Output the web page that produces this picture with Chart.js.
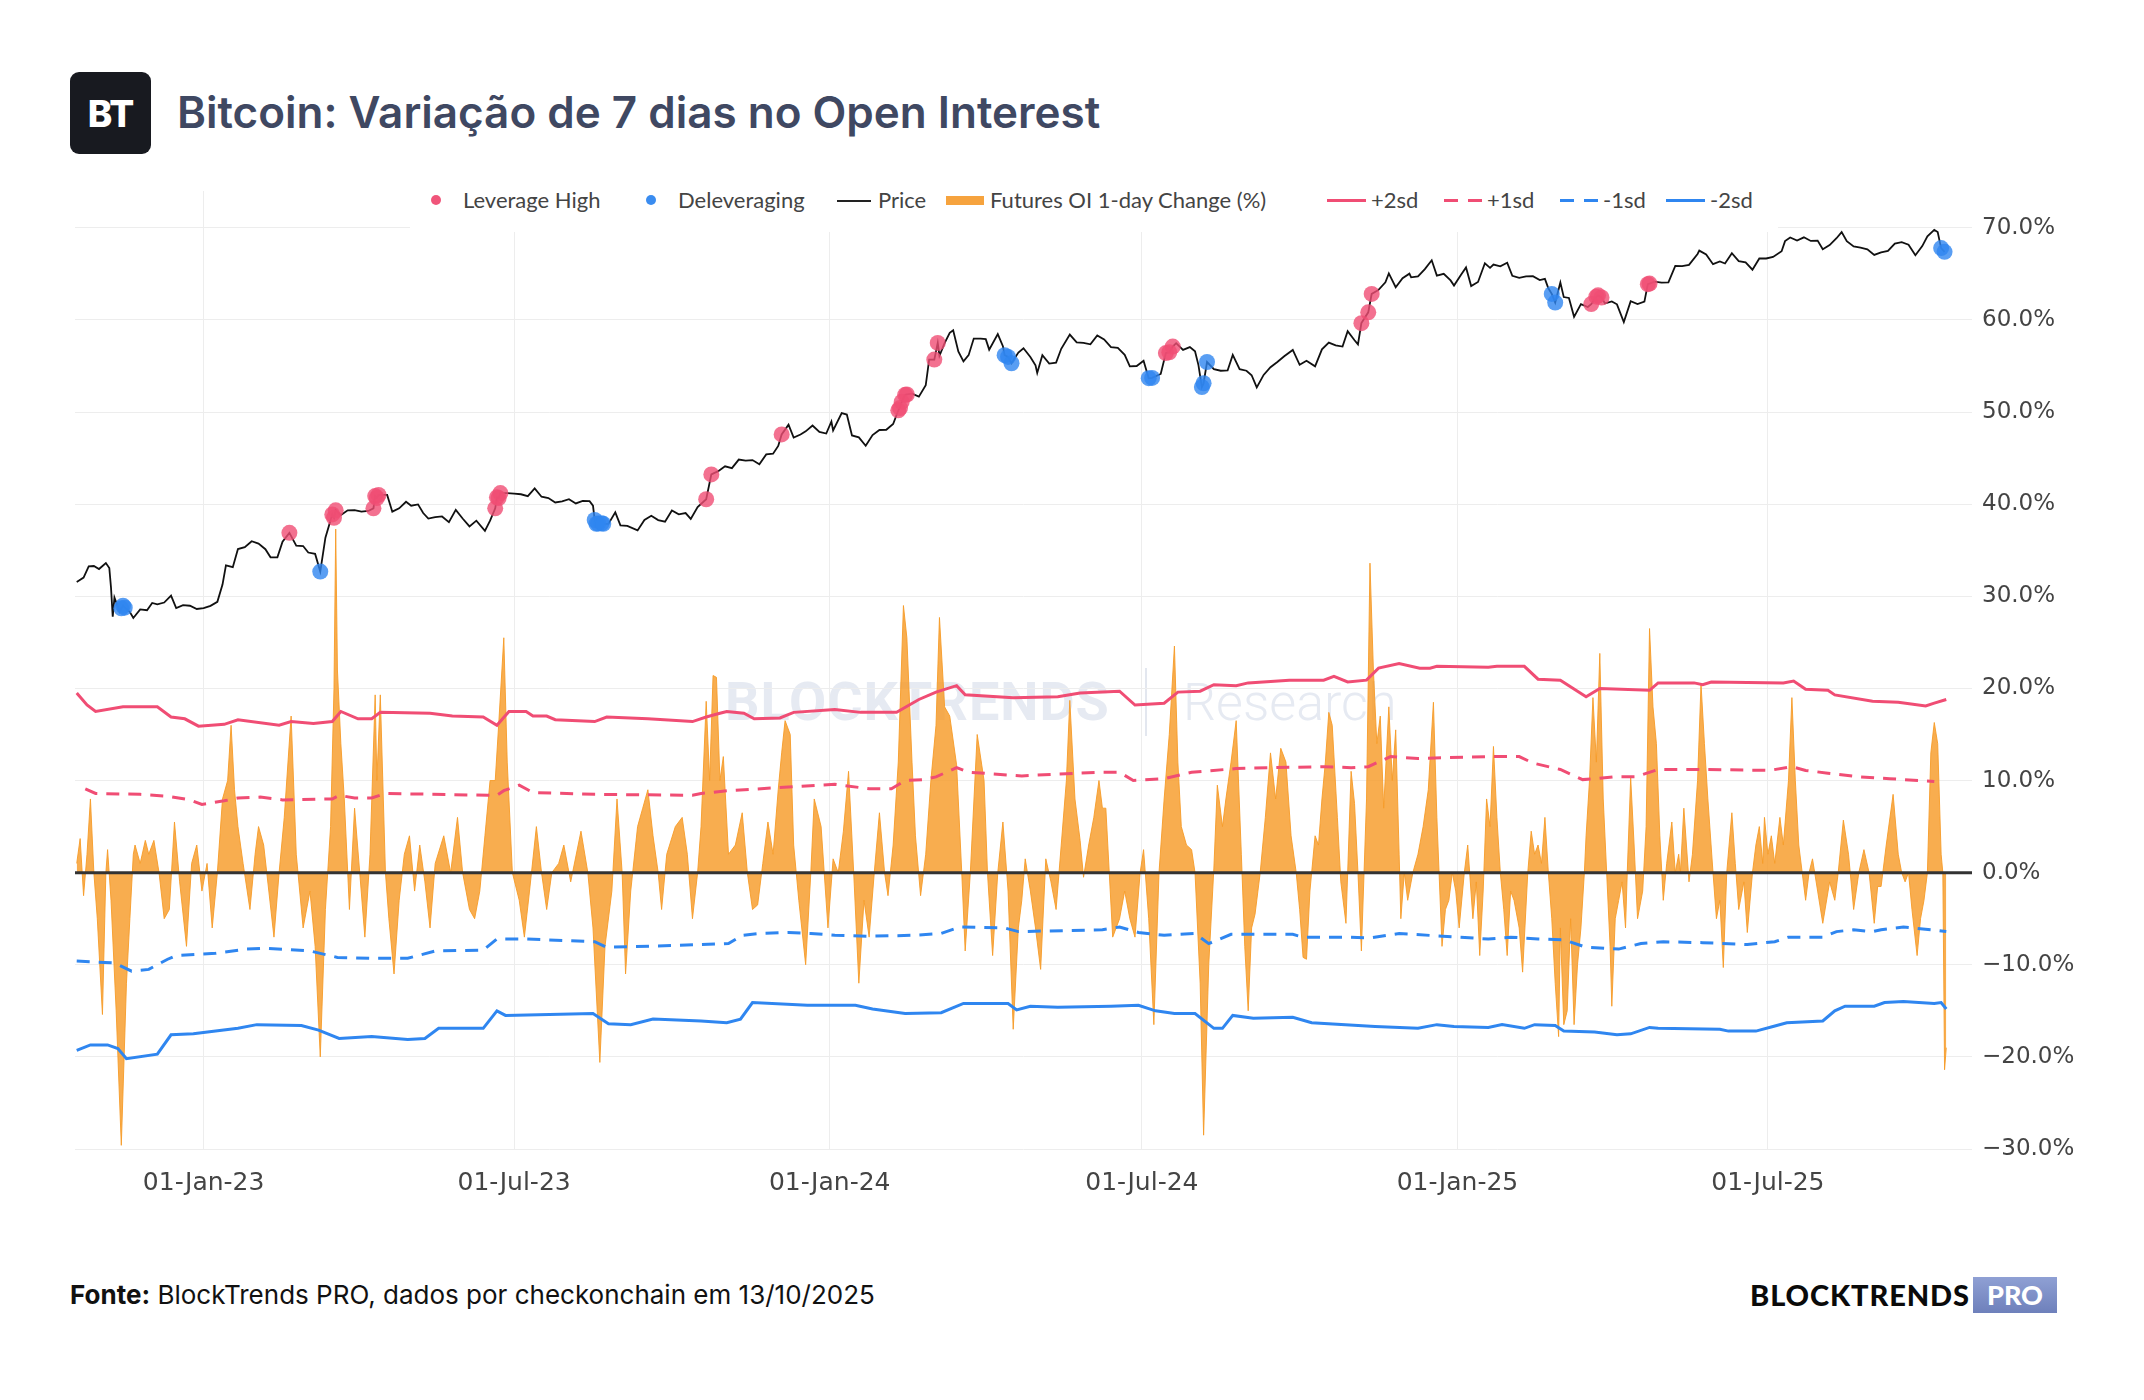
<!DOCTYPE html>
<html>
<head>
<meta charset="utf-8">
<script src="https://cdn.jsdelivr.net/npm/chart.js@4.4.1/dist/chart.umd.min.js"></script>
<style>
  body { margin:0; width:2144px; height:1400px; background:#fff; position:relative; overflow:hidden; font-family: Inter, "Noto Sans", sans-serif; }
  #logo { position:absolute; left:70px; top:72px; width:81px; height:82px; background:#181a20; border-radius:9px; color:#fff;
          font-weight:800; font-size:37px; display:flex; align-items:center; justify-content:center; letter-spacing:-1px; }
  #title { position:absolute; left:177px; top:83px; font-weight:600; font-size:44px; color:#3f4862; line-height:58px; white-space:nowrap; }
  #wm { position:absolute; left:725px; top:668px; height:70px; z-index:0; white-space:nowrap; }
  #wm .b { position:absolute; left:0; top:2px; font: 700 54px Roboto; color:#e6eaf2; letter-spacing:1px; }
  #wm .sep { position:absolute; left:420px; top:0; width:2px; height:68px; background:#e3e7ef; }
  #wm .r { position:absolute; left:458px; top:4px; font: 300 52px Roboto; color:#e6eaf2; }
  canvas { position:absolute; left:0; top:0; z-index:1; }
  #legend { position:absolute; left:410px; top:172px; width:1368px; height:60px; background:#fff; z-index:2; }
  .lt { position:absolute; top:13px; font: 400 22px Lato; color:#444; line-height:30px; white-space:nowrap; }
  .dot { position:absolute; top:23px; width:10px; height:10px; border-radius:50%; }
  .ln { position:absolute; top:27px; height:3px; }
  #footer { position:absolute; left:70px; top:1278px; font-size:26px; color:#111; line-height:34px; white-space:nowrap; }
  #brand { position:absolute; left:1750px; top:1277px; height:36px; white-space:nowrap; }
  #brand .bt { position:absolute; left:0; top:0; font: 900 29px Lato; color:#0a0a0a; line-height:36px; letter-spacing:0.9px; }
  #brand .pro { position:absolute; left:223px; top:0; width:84px; height:36px; background:linear-gradient(#8fa0d4,#6e80bb);
               color:#fff; font: 900 27px Lato; line-height:36px; text-align:center; }
</style>
</head>
<body>
<div id="logo">BT</div>
<div id="title">Bitcoin: Variação de 7 dias no Open Interest</div>

<div id="wm"><span class="b">BLOCKTRENDS</span><span class="sep"></span><span class="r">Research</span></div>

<canvas id="chart" width="2144" height="1400"></canvas>

<div id="legend">
  <span class="dot" style="left:21px;background:#f0557a"></span>
  <span class="lt" style="left:53px">Leverage High</span>
  <span class="dot" style="left:236px;background:#3a8cf0"></span>
  <span class="lt" style="left:268px">Deleveraging</span>
  <span class="ln" style="left:427px;width:34px;height:2px;top:28px;background:#222"></span>
  <span class="lt" style="left:468px">Price</span>
  <span class="ln" style="left:536px;width:38px;height:9px;top:24px;background:#f6a33e"></span>
  <span class="lt" style="left:580px">Futures OI 1-day Change (%)</span>
  <span class="ln" style="left:917px;width:39px;background:#f04d74"></span>
  <span class="lt" style="left:961px">+2sd</span>
  <span class="ln" style="left:1034px;width:14px;background:#f04d74"></span>
  <span class="ln" style="left:1058px;width:14px;background:#f04d74"></span>
  <span class="lt" style="left:1077px">+1sd</span>
  <span class="ln" style="left:1150px;width:14px;background:#2f86f0"></span>
  <span class="ln" style="left:1174px;width:14px;background:#2f86f0"></span>
  <span class="lt" style="left:1193px">-1sd</span>
  <span class="ln" style="left:1256px;width:39px;background:#2f86f0"></span>
  <span class="lt" style="left:1300px">-2sd</span>
</div>

<div id="footer"><b>Fonte:</b> BlockTrends PRO, dados por checkonchain em 13/10/2025</div>
<div id="brand"><span class="bt">BLOCKTRENDS</span><span class="pro">PRO</span></div>

<script>
// x values are days counted from 01-Jan-2023
const tickDays = [0, 181, 365, 547, 731, 912];
const tickLabels = ['01-Jan-23', '01-Jul-23', '01-Jan-24', '01-Jul-24', '01-Jan-25', '01-Jul-25'];
const pctTicks = [-30, -20, -10, 0, 10, 20, 30, 40, 50, 60, 70];

// BTC price (USD)
const priceDays = [-74,-70,-67,-64,-61,-57,-55,-54,-53,-52,-49,-48,-47,-46,-43,-41,-37,-33,-30,-27,-23,-19,-16,-12,-8,-4,
  0,4,8,11,13,17,20,24,28,32,36,39,43,46,50,54,58,61,65,68,71,75,76,77,80,84,88,92,96,99,100,101,102,107,110,114,118,
  121,125,128,131,135,139,143,147,151,155,159,164,167,170,171,172,173,177,181,185,189,193,197,201,205,209,213,217,221,
  225,227,228,229,230,232,233,236,240,243,247,253,257,261,265,269,273,277,281,284,288,293,296,300,304,308,312,316,320,
  324,328,332,335,337,341,344,348,351,355,359,363,366,367,372,375,378,382,386,390,394,398,402,405,406,407,409,410,413,
  417,421,423,426,428,429,432,435,437,440,443,446,449,453,456,458,463,466,467,469,471,475,478,482,485,486,489,493,497,
  500,505,509,513,517,521,525,529,533,537,540,544,548,551,553,558,561,563,565,567,571,575,578,580,582,583,585,589,593,
  597,600,604,608,611,614,618,622,626,630,635,639,643,648,652,656,660,664,667,671,673,675,679,681,685,689,691,695,699,
  703,704,708,712,716,719,723,727,729,733,736,739,743,747,750,752,756,760,763,767,771,775,779,782,784,786,788,791,793,
  796,799,803,807,809,812,813,815,817,821,824,828,832,836,840,842,843,846,850,854,858,862,866,871,872,876,880,884,887,
  891,895,899,903,907,911,915,920,922,925,929,933,937,941,944,948,952,955,958,962,966,970,974,978,982,986,990,994,998,
  1002,1005,1009,1011,1013,1015];
const priceVals = [19120,19570,20770,20810,20480,21150,20590,18540,15880,17590,16330,16610,16850,16670,16280,15780,16520,
  16440,17090,16970,17130,17780,16630,16900,16840,16550,
  16620,16830,17200,18850,20880,20680,22780,23000,23750,23450,22760,21800,21790,23700,24830,23200,23150,22360,22200,
  20200,24200,27400,26900,28000,27300,28000,28030,27800,27900,28300,30200,29900,30400,30390,27800,28300,29300,
  28700,28900,27600,26800,27000,27100,26300,28070,26800,25700,26500,25100,26500,28300,30000,29900,30700,30700,30600,
  30500,30200,31470,30100,29900,29200,29350,29700,29050,29430,
  29400,28700,26600,26050,26100,26120,26050,26050,27700,25850,25770,25160,26600,27200,26580,26350,27980,27410,27590,
  26750,28500,29700,33900,34500,35400,35050,36690,36480,36590,
  35800,37720,37850,39450,41950,44200,41250,41930,42650,43990,42520,42150,44950,42850,47000,46630,41730,41300,39500,
  41800,42950,43000,44350,47700,48300,49900,51800,51900,52140,
  51300,54500,62500,62500,68300,63800,68200,72100,73100,65300,61900,64000,69900,69900,69700,65900,71600,67100,64000,
  63400,61300,64900,66400,63400,60600,58200,64000,61200,61500,
  66200,71400,68500,68300,67800,71100,69600,66800,66500,64100,60300,60400,62100,56600,56700,57900,64700,65000,67000,
  68200,65800,66800,65300,60700,54000,55100,61700,59400,58900,
  59000,64100,59400,58900,57500,53900,57600,60000,61700,63600,65800,60800,62100,60300,66000,68400,67400,67000,72700,
  69300,67800,75900,80400,88700,90600,94300,98900,91900,96400,
  98800,96900,97400,101200,106100,97800,98700,95300,92700,98100,102100,92500,94500,104400,101900,103700,102700,104700,
  97700,96600,97400,97500,95500,96100,91400,88700,84700,94200,87200,
  86800,78500,84000,82700,84000,87400,88000,87000,84300,85200,83900,76300,85300,84000,85100,93400,93700,94700,94200,
  94300,103000,102800,103500,109700,111700,109400,103900,105400,104300,
  110200,105600,104900,100900,107100,107100,108000,111300,117500,119800,117900,119900,117600,117800,112500,115000,
  119300,123300,117400,114200,113500,112500,109200,110700,111500,115900,116800,115300,109000,
  114400,120500,124700,123300,113200,111000];

// signal dots (on price)
const levDays = [50,75,76,77,99,100,101,102,170,171,172,173,293,296,337,405,406,407,409,410,426,428,561,563,565,675,679,681,
  809,812,813,815,842,843];
const levPrice = [24830,27400,26900,28000,28300,30200,29900,30400,28300,30000,29900,30700,29700,33900,41950,47700,48300,
  49900,51800,51900,62500,68300,64700,65000,67000,75900,80400,88700,84000,87400,88000,87000,93400,93700];
const delevDays = [-48,-47,-46,68,228,229,230,232,233,467,469,471,551,553,582,583,585,786,788,1013,1015];
const delevPrice = [16610,16850,16670,20200,26600,26050,26100,26120,26050,64000,63400,61300,56600,56700,54000,55100,
  61700,88700,84700,113200,111000];

// Futures OI change (%)
const oiDays = [-74,-72,-70,-68,-66,-64,-62,-59,-57,-56,-54,-51,-48,-45,-43,-41,-40,-37,-34,-32,-29,-26,-23,-20,-17,-14,
  -10,-7,-4,-1,2,5,8,11,14,16,18,20,23,27,30,32,35,38,41,44,47,51,54,58,62,65,68,71,74,76,77,78,80,82,85,88,91,94,97,
  100,101,103,106,108,111,114,117,120,123,126,129,132,135,140,144,148,151,155,158,161,164,167,170,172,175,177,180,184,
  187,190,194,197,200,203,207,210,214,220,224,227,231,234,238,241,244,246,249,253,256,259,262,265,267,270,275,279,282,
  285,288,
  290,293,295,297,299,301,303,306,310,314,317,320,323,326,329,332,335,337,339,342,344,347,351,354,356,360,364,367,370,
  373,376,379,382,385,388,391,394,397,399,402,405,408,410,413,415,418,421,424,427,429,432,435,439,442,444,447,451,455,
  457,460,463,466,469,472,475,477,479,482,485,488,491,494,497,500,503,505,508,511,513,516,519,522,524,526,528,530,534,
  537,540,543,546,548,551,554,557,560,563,566,568,570,573,576,578,581,583,586,589,591,594,596,599,602,605,607,609,611,
  613,616,619,622,625,628,631,634,637,639,
  641,643,645,648,650,652,654,656,658,661,663,666,669,671,673,675,678,680,682,684,686,688,691,693,695,697,698,700,702,
  705,708,711,714,717,719,722,724,726,728,730,732,735,737,740,742,744,746,748,750,752,754,756,758,760,762,764,767,769,
  772,774,776,778,780,782,784,786,788,790,791,793,795,797,799,801,803,805,806,808,810,812,814,816,818,820,821,823,825,
  827,829,830,832,834,836,839,841,843,845,847,849,851,853,856,858,860,861,863,866,868,871,873,875,877,880,882,884,886,
  888,891,893,895,898,900,903,905,907,909,910,912,914,916,919,921,924,926,928,930,932,934,936,938,941,944,948,951,953,
  956,959,962,965,968,971,974,976,978,981,985,988,990,992,994,996,999,1001,1003,1005,1007,1009,1011,1013,1014,1015,1016];
const oiVals = [1,3.7,-2.5,2,8,0,-5,-15.4,0,2.5,-3,-15,-29.6,-12,-5,2,3,1,3.5,2,3.5,0,-5,-4,5.5,-1,
  -8,1,3,-2,1,-6,0,8,10,16,9,5,1,-4,2,5,3,-2,-7,0,6,17,2,-6,-2,-8,-20,-4,5,20,37.3,22,14,8,-4,7,0,-7,2,
  19.3,10,19.3,0,-5,-11,-3,2,4,-2,3,-1,-6,1,4,0,6,0,-4,-5,-2,4,10,10,16,25.5,12,0,-3,
  -7,-2,5,0,-4,0,1,3,-1,4.5,0,-6,-20.6,-8,-2,8,0,-11,-2,5,7,9,4,0,-4,2,5,6,2,
  -5,0,
  5,18.6,10,21.4,21.2,10,12.6,2,3,6.5,0,-4,-3.5,1,5.5,2,9,13,16.5,15,3,-3,-10,0,8,5,-6,1.5,0,
  4.5,11,0,-12,-3,-7,0,6.5,0,-2.5,3,12,29,25.5,12,4,-2.5,2,10,16,27.7,18,17,11.7,0,-8.5,0,15,10,
  0,-9,0,5.5,-2,-17,-6,-3,1.5,-2,-6,-10.5,1.5,-1,-4,3,10,18.7,8,3.5,-0.5,3,6,10,7,7,0,-7,-5,
  -2,-5,-7,0,2.5,-5,-16.5,0,8,15,24.6,12,5,3,2.5,0,-12,-28.5,-10,0.5,9.5,5,8,12,16.5,2,-8,-15,-6,
  -4.5,0,6,13,8,13.5,12,4,0,-4,
  -9.2,-9.4,-2,4,3,8,12,17.4,16,6,-1,-5.5,11,7.5,0,-8.5,8,33.6,22,14,17,7,18,10,15.5,2,-5,0,-3,
  0,2,5,9,18.5,6,-8,-4,-3,0,-2,-6,0,3,-5,-1,-9,-2,8,5,13.7,6,0,-4,-9,-2,-3,-6,-10.8,
  0,4.5,2,3,1,6,0,-5,-12,-17.8,-6,-16.5,-15,-5,-16.5,-10,-6,0,4,10,19,12,23.8,8,0,-8,-14.5,-5,-3,
  -1,-6,0,10.3,3,-5,-2,5,26.5,18,14,4,-3,1,5.5,0,2,0,7,-1,2,10,20.5,14,8,0,-5,-3,-10.3,
  0,6.5,1,-4,-1,-6.5,0,3,5,1,6,2,4,1,6,3,10,19,10,3,0,-3,0,1.5,-2,-5.5,-1,-3,0,
  5.7,2,-4,0,2.5,0,-5.5,-1.5,-1.5,3,8.5,2,0,-1,0,-4,-9,-5,-3,0,13,16.3,14,2,0,-21.4,-19];

// standard deviation bands (%)
const p2Days = [-74,-68,-63,-47,-27,-19,-11,-3,12,20,44,51,64,75,80,90,98,103,132,145,163,171,178,188,192,200,205,228,235,
  259,285,293,301,305,315,321,336,344,368,383,404,417,427,439,444,472,498,511,534,543,560,568,581,589,602,609,633,653,
  659,667,678,685,697,709,715,719,749,754,770,778,791,806,814,843,848,869,874,879,921,927,934,947,951,973,988,1004,
  1009,1016];
const p2Vals = [19.5,18.2,17.5,18.0,18.0,16.9,16.7,15.9,16.1,16.6,16.0,16.4,16.2,16.4,17.5,16.7,16.7,17.4,17.3,17.0,16.9,
  16.0,17.5,17.5,17.0,17.0,16.6,16.4,16.9,16.7,16.4,16.9,17.3,17.5,17.3,16.7,16.8,17.4,17.7,17.4,17.4,18.8,19.6,20.3,
  19.3,19.0,19.1,19.5,19.7,18.2,18.4,19.6,19.7,20.4,20.3,20.6,20.9,20.9,21.3,20.7,20.9,22.2,22.7,22.2,22.2,22.4,22.3,
  22.4,22.4,21.0,20.9,19.1,20.0,19.8,20.6,20.6,20.4,20.7,20.6,20.8,19.9,19.8,19.3,18.6,18.5,18.1,18.4,18.8];
const p1Days = [-69,-63,-37,-21,-8,-1,12,20,33,46,75,79,88,98,106,166,171,175,184,192,228,285,290,306,368,388,401,409,420,
  427,439,446,477,498,524,534,542,560,576,602,620,653,669,679,692,708,749,767,775,791,804,812,822,835,848,874,913,926,
  934,947,965,983,1009];
const p1Vals = [9.1,8.6,8.5,8.3,7.9,7.4,7.8,8.1,8.2,7.9,8.0,8.4,8.1,8.1,8.6,8.4,8.4,8.9,9.5,8.7,8.5,8.4,8.6,8.9,9.6,9.1,
  9.1,10.0,10.1,10.4,11.4,10.9,10.5,10.7,10.9,10.9,10.0,10.2,10.9,11.3,11.4,11.5,11.4,11.5,12.6,12.4,12.6,12.6,11.9,
  11.2,10.1,10.2,10.4,10.4,11.2,11.2,11.1,11.5,11.1,10.8,10.4,10.2,9.9];
const m1Days = [-74,-52,-42,-32,-21,-16,7,25,36,62,78,98,119,135,163,171,187,228,235,275,306,314,324,341,354,368,388,414,
  430,441,467,475,524,534,545,560,578,586,599,635,641,667,680,697,731,749,762,778,793,806,825,838,851,874,900,916,924,
  944,952,962,973,978,991,1007,1016];
const m1Vals = [-9.6,-9.8,-10.7,-10.5,-9.4,-9.0,-8.75,-8.3,-8.2,-8.5,-9.2,-9.3,-9.3,-8.5,-8.4,-7.2,-7.2,-7.5,-8.1,-7.9,
  -7.7,-6.8,-6.6,-6.5,-6.6,-6.8,-6.9,-6.8,-6.6,-5.9,-6.0,-6.4,-6.2,-5.9,-6.5,-6.8,-6.6,-7.7,-6.7,-6.7,-7.0,-7.0,-7.1,
  -6.6,-7.0,-7.2,-7.0,-7.2,-7.3,-8.1,-8.3,-7.7,-7.5,-7.6,-7.8,-7.5,-7.0,-7.0,-6.4,-6.2,-6.4,-6.2,-5.9,-6.2,-6.4];
const m2Days = [-74,-66,-56,-50,-45,-27,-19,-6,7,20,31,57,67,79,98,119,129,137,163,171,176,227,236,249,262,290,305,313,
  320,352,380,390,409,430,443,469,474,482,498,529,545,555,566,578,589,594,600,612,635,646,683,708,719,729,749,757,770,
  776,788,793,811,824,832,843,848,884,889,905,915,923,944,951,957,974,980,991,1009,1013,1016];
const m2Vals = [-19.3,-18.7,-18.7,-19.1,-20.2,-19.7,-17.6,-17.5,-17.2,-16.9,-16.5,-16.6,-17.1,-18.0,-17.8,-18.1,-18.0,
  -16.9,-16.9,-15.0,-15.5,-15.3,-16.4,-16.5,-15.9,-16.1,-16.3,-15.9,-14.1,-14.4,-14.4,-14.8,-15.3,-15.2,-14.2,-14.2,
  -14.9,-14.5,-14.6,-14.5,-14.4,-15.0,-15.3,-15.3,-16.9,-16.9,-15.5,-15.8,-15.7,-16.3,-16.7,-16.9,-16.5,-16.7,-16.8,
  -16.5,-16.9,-16.5,-16.6,-17.2,-17.3,-17.6,-17.5,-16.8,-16.9,-17.0,-17.2,-17.2,-16.7,-16.3,-16.1,-15.0,-14.5,-14.5,
  -14.1,-14.0,-14.2,-14.1,-14.8];

const pts = (xs, ys) => xs.map((x, i) => ({ x: x, y: ys[i] }));

const PINK = '#f04d74';
const BLUE = '#2f86f0';

// dark zero line on top of the orange area
const zeroLine = {
  id: 'zeroLine',
  afterDatasetsDraw(chart) {
    const y = chart.scales.y.getPixelForValue(0);
    const ctx = chart.ctx;
    ctx.save();
    ctx.strokeStyle = '#333';
    ctx.lineWidth = 3;
    ctx.beginPath();
    ctx.moveTo(chart.chartArea.left, y);
    ctx.lineTo(chart.chartArea.right, y);
    ctx.stroke();
    ctx.restore();
  }
};

new Chart(document.getElementById('chart'), {
  type: 'line',
  data: {
    datasets: [{
      label: 'Leverage High',
      data: pts(levDays, levPrice),
      yAxisID: 'yPrice',
      showLine: false,
      pointRadius: 8,
      pointBorderWidth: 0,
      pointBackgroundColor: 'rgba(240,77,116,0.8)',
      order: 0
    }, {
      label: 'Deleveraging',
      data: pts(delevDays, delevPrice),
      yAxisID: 'yPrice',
      showLine: false,
      pointRadius: 8,
      pointBorderWidth: 0,
      pointBackgroundColor: 'rgba(47,134,240,0.8)',
      order: 0
    }, {
      label: 'Price',
      data: pts(priceDays, priceVals),
      yAxisID: 'yPrice',
      borderColor: '#111',
      borderWidth: 1.8,
      pointRadius: 0,
      order: 1
    }, {
      label: '+2sd',
      data: pts(p2Days, p2Vals),
      yAxisID: 'y',
      borderColor: PINK,
      borderWidth: 3,
      pointRadius: 0,
      order: 2
    }, {
      label: '+1sd',
      data: pts(p1Days, p1Vals),
      yAxisID: 'y',
      borderColor: PINK,
      borderWidth: 3,
      borderDash: [13, 9],
      pointRadius: 0,
      order: 2
    }, {
      label: '-1sd',
      data: pts(m1Days, m1Vals),
      yAxisID: 'y',
      borderColor: BLUE,
      borderWidth: 3,
      borderDash: [13, 9],
      pointRadius: 0,
      order: 2
    }, {
      label: '-2sd',
      data: pts(m2Days, m2Vals),
      yAxisID: 'y',
      borderColor: BLUE,
      borderWidth: 3,
      pointRadius: 0,
      order: 2
    }, {
      label: 'Futures OI 1-day Change (%)',
      data: pts(oiDays, oiVals),
      yAxisID: 'y',
      borderColor: 'rgba(246,155,40,0.9)',
      backgroundColor: 'rgba(246,155,40,0.82)',
      borderWidth: 1,
      fill: 'origin',
      pointRadius: 0,
      order: 3
    }]
  },
  options: {
    responsive: false,
    animation: false,
    devicePixelRatio: 1,
    layout: { padding: { left: 75, top: 191, right: 52, bottom: 191 } },
    plugins: { legend: { display: false }, tooltip: { enabled: false } },
    scales: {
      x: {
        type: 'linear',
        min: -75,
        max: 1031,
        border: { display: false },
        grid: { color: '#ededed', lineWidth: 1, drawTicks: false },
        afterBuildTicks: s => { s.ticks = tickDays.map(v => ({ value: v })); },
        afterFit: s => { s.height = 60; },
        ticks: {
          autoSkip: false,
          maxRotation: 0,
          padding: 19,
          color: '#444',
          font: { family: 'DejaVu Sans', size: 25 },
          callback: (v, i) => tickLabels[i]
        }
      },
      y: {
        type: 'linear',
        position: 'right',
        min: -30,
        max: 74,
        border: { display: false },
        grid: { color: '#ededed', lineWidth: 1, drawTicks: false },
        afterBuildTicks: s => { s.ticks = pctTicks.map(v => ({ value: v })); },
        afterFit: s => { s.width = 120; },
        ticks: {
          padding: 10,
          color: '#444',
          font: { family: 'DejaVu Sans', size: 23 },
          callback: v => (v < 0 ? '\u2212' : '') + Math.abs(v).toFixed(1) + '%'
        }
      },
      yPrice: {
        type: 'logarithmic',
        display: false,
        min: 932,
        max: 153450
      }
    }
  },
  plugins: [zeroLine]
});
</script>
</body>
</html>
